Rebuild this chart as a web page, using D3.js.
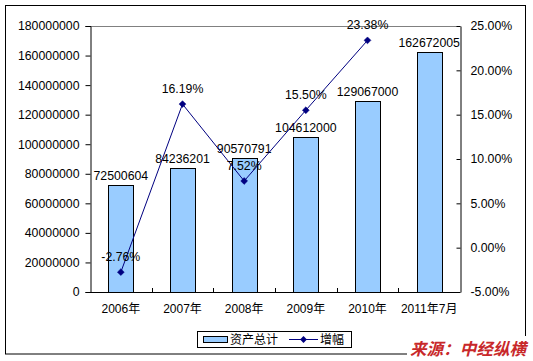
<!DOCTYPE html>
<html><head><meta charset="utf-8">
<script src="https://cdn.jsdelivr.net/npm/d3@7"></script>
<style>body{margin:0;background:#fff}svg{display:block}</style>
</head><body>
<svg id="c" width="533" height="361"></svg>
<script>
const categories = ["2006年","2007年","2008年","2009年","2010年","2011年7月"];
const assets = [72500604, 84236201, 90570791, 104612000, 129067000, 162672005];
const growth = [-2.76, 16.19, 7.52, 15.50, 23.38];
const leftTicks = [0,20000000,40000000,60000000,80000000,100000000,120000000,140000000,160000000,180000000];
const rightTicks = [-5,0,5,10,15,20,25];
const seriesNames = ["资产总计","增幅"];
const sourceText = "来源：中经纵横";

const svg = d3.select("#c");
const font = "'Liberation Sans', Arial, 'Noto Sans CJK SC', sans-serif";
const L = 90, R = 460, T = 26, B = 292;

// outer frame
svg.append("rect").attr("x",5.5).attr("y",5.5).attr("width",520).attr("height",348.5)
  .attr("fill","#fff").attr("stroke","#000").attr("stroke-width",1);

const xc = d3.scaleBand().domain(categories).range([L,R]);
const yL = d3.scaleLinear().domain([0,180000000]).range([B,T]);
const yR = d3.scaleLinear().domain([-5,25]).range([B,T]);

// top plot border
svg.append("line").attr("x1",L).attr("x2",R).attr("y1",T+0.5).attr("y2",T+0.5).attr("stroke","#808080");

// bars
svg.append("g").selectAll("rect").data(assets).join("rect")
  .attr("x",(d,i)=>Math.round(xc(categories[i])+xc.bandwidth()/2-12.5)+0.5)
  .attr("y",d=>Math.round(yL(d))+0.5)
  .attr("width",25)
  .attr("height",d=>B-Math.round(yL(d)))
  .attr("fill","#99ccff").attr("stroke","#000").attr("stroke-width",1);

// left axis
const gl = svg.append("g").attr("transform",`translate(${L+0.5},0)`)
  .call(d3.axisLeft(yL).tickValues(leftTicks).tickSize(5).tickPadding(6).tickFormat(d3.format("d")));
gl.select(".domain").attr("stroke","#000");
gl.selectAll("text").attr("font-family",font).attr("font-size","12.3px").attr("fill","#000");

// right axis (ticks inside)
const gr = svg.append("g").attr("transform",`translate(${R+0.5},0)`)
  .call(d3.axisRight(yR).tickValues(rightTicks).tickSize(0).tickPadding(10).tickFormat(d=>d.toFixed(2)+"%"));
gr.select(".domain").attr("stroke","#000");
gr.selectAll(".tick").append("line").attr("x1",-4).attr("x2",0).attr("stroke","#000");
gr.selectAll("text").attr("font-family",font).attr("font-size","12.3px").attr("fill","#000");

// bottom axis
const gb = svg.append("g").attr("transform",`translate(0,${B+0.5})`)
  .call(d3.axisBottom(xc).tickSize(0).tickPadding(12));
gb.select(".domain").attr("stroke","#000").attr("d",`M${L},0H${R}`);
gb.selectAll("text").attr("font-family",font).attr("font-size","12px").attr("fill","#000");
// boundary ticks pointing up
svg.append("g").selectAll("line").data(categories.slice(1)).join("line")
  .attr("x1",d=>Math.round(xc(d))+0.5).attr("x2",d=>Math.round(xc(d))+0.5)
  .attr("y1",B).attr("y2",B-4).attr("stroke","#000");

// bar labels
svg.append("g").selectAll("text").data(assets).join("text")
  .attr("x",(d,i)=>xc(categories[i])+xc.bandwidth()/2)
  .attr("y",d=>yL(d)-5)
  .attr("text-anchor","middle").attr("font-family",font).attr("font-size","12.3px")
  .text(d=>d);

// growth line
const line = d3.line().x((d,i)=>xc(categories[i])+xc.bandwidth()/2).y(d=>yR(d));
svg.append("path").datum(growth).attr("d",line).attr("fill","none").attr("stroke","#000080").attr("stroke-width",1);
svg.append("g").selectAll("path").data(growth).join("path")
  .attr("transform",(d,i)=>`translate(${xc(categories[i])+xc.bandwidth()/2},${yR(d)})`)
  .attr("d",d3.symbol(d3.symbolDiamond2,30))
  .attr("fill","#000080").attr("stroke","#000080").attr("stroke-width",0.5);
svg.append("g").selectAll("text").data(growth).join("text")
  .attr("x",(d,i)=>xc(categories[i])+xc.bandwidth()/2)
  .attr("y",d=>yR(d)-11)
  .attr("text-anchor","middle").attr("font-family",font).attr("font-size","12.3px")
  .text(d=>d.toFixed(2)+"%");

// legend
const lg = svg.append("g");
lg.append("rect").attr("x",197.5).attr("y",331.5).attr("width",154).attr("height",16).attr("fill","#fff").attr("stroke","#000");
lg.append("rect").attr("x",203.5).attr("y",336.5).attr("width",24).attr("height",6).attr("fill","#99ccff").attr("stroke","#000");
lg.append("text").attr("x",230).attr("y",344).attr("font-family","'Noto Sans CJK SC', sans-serif").attr("font-size","12px").text(seriesNames[0]);
lg.append("line").attr("x1",289).attr("x2",318).attr("y1",339.5).attr("y2",339.5).attr("stroke","#000080");
lg.append("path").attr("transform","translate(303.5,339.5)").attr("d",d3.symbol(d3.symbolDiamond2,30)).attr("fill","#000080");
lg.append("text").attr("x",320).attr("y",344).attr("font-family","'Noto Sans CJK SC', sans-serif").attr("font-size","12px").text(seriesNames[1]);

// source watermark (covers frame corner)
svg.append("rect").attr("x",407).attr("y",336).attr("width",126).attr("height",25).attr("fill","#fff");
svg.append("text").attr("x",410).attr("y",355).attr("font-family","'Noto Sans CJK SC', sans-serif")
  .attr("font-size","16.5px").attr("font-weight","bold").attr("font-style","italic")
  .attr("fill","#c8282a").attr("textLength",116).text(sourceText);
</script>
</body></html>
